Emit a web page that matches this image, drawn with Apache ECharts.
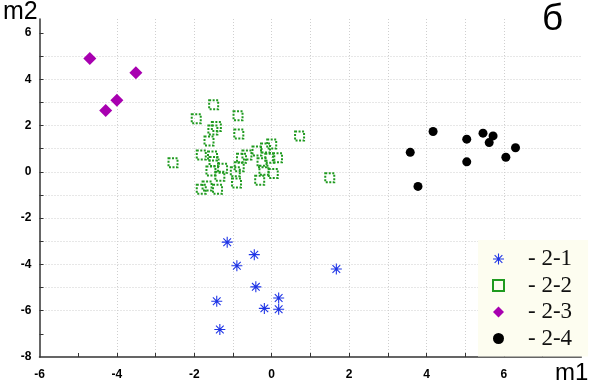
<!DOCTYPE html>
<html><head><meta charset="utf-8">
<script src="https://cdn.jsdelivr.net/npm/echarts@6/dist/echarts.min.js"></script>
<style>html,body{margin:0;padding:0;background:#fff}#c{width:591px;height:386px}</style>
</head><body><div id="c"></div>
<script>
// Series 2-1 (blue asterisks)
const s21 = [[-1.15,-3.04],[-0.45,-3.58],[-0.90,-4.06],[1.67,-4.20],[-0.41,-4.97],[-1.42,-5.59],[0.18,-5.45],[-0.19,-5.90],[0.18,-5.94],[-1.34,-6.81]];
// Series 2-2 (green dotted squares)
const s22 = [[-1.50,2.90],[-1.95,2.29],[-0.87,2.42],[-1.52,1.81],[-1.43,1.96],[-0.85,1.63],[0.72,1.55],[-1.62,1.33],[0.00,1.20],[-0.16,1.03],[-0.38,0.90],[-0.64,0.73],[-0.78,0.58],[-1.82,0.73],[-1.53,0.68],[-1.49,0.44],[-2.55,0.39],[-1.27,0.15],[-1.57,0.03],[-1.34,-0.19],[-0.84,0.22],[-0.94,0.00],[-0.25,0.39],[-0.05,0.58],[0.15,0.61],[-0.20,0.07],[0.04,-0.07],[-0.31,-0.36],[-0.91,-0.48],[1.50,-0.26],[-1.82,-0.75],[-1.67,-0.61],[-1.40,-0.75]];
// Series 2-3 (purple diamonds)
const s23 = [[-4.70,4.89],[-3.51,4.28],[-4.00,3.09],[-4.29,2.65]];
// Series 2-4 (black dots)
const s24 = [[4.17,1.74],[3.58,0.84],[3.78,-0.63],[5.04,1.41],[5.04,0.43],[5.46,1.67],[5.72,1.55],[5.62,1.26],[6.05,0.63],[6.30,1.04]];
const seriesNames = ['2-1','2-2','2-3','2-4'];
const xTicks = [-5,-4,-3,-2,-1,0,1,2,3,4,5,6,7];
const yTicks = [-7,-6,-5,-4,-3,-2,-1,0,1,2,3,4,5,6];

const asterisk = 'path://M9,0L11,0L11,20L9,20Z M0,9L20,9L20,11L0,11Z M2.3,3.7L3.7,2.3L17.7,16.3L16.3,17.7Z M16.3,2.3L17.7,3.7L3.7,17.7L2.3,16.3Z';
const labelStyle = {color:'#000', fontSize:12, fontWeight:'bold', fontFamily:'Liberation Sans, Arial, sans-serif'};
const chart = echarts.init(document.getElementById('c'), null, {renderer:'canvas'});
chart.setOption({
  animation:false,
  backgroundColor:'#fff',
  grid:{left:39.5, right:9.7, top:19, bottom:29, containLabel:false},
  xAxis:{type:'value', min:-6, max:8, interval:2,
    axisLine:{onZero:false, lineStyle:{color:'#333', width:1.5}},
    axisTick:{show:true, inside:true, length:4, customValues:xTicks, lineStyle:{color:'#333'}},
    axisLabel:Object.assign({margin:12, showMaxLabel:false}, labelStyle),
    splitLine:{show:true, showMinLine:false, showMaxLine:false, lineStyle:{color:'#cfcfcf', type:[1,2], width:1}}
  },
  yAxis:{type:'value', min:-8, max:6.6, interval:2,
    axisLine:{show:true, onZero:false, lineStyle:{color:'#333', width:1.5}},
    axisTick:{show:true, inside:true, length:4, customValues:yTicks, lineStyle:{color:'#333'}},
    axisLabel:Object.assign({margin:8, formatter:function(v){return (Math.abs(v - Math.round(v))<1e-6 && Math.round(v)%2===0) ? String(Math.round(v)) : '';}}, labelStyle),
    splitLine:{show:true, showMinLine:false, showMaxLine:false, lineStyle:{color:'#cfcfcf', type:[1,2], width:1}}
  },
  legend:{orient:'vertical', left:478, top:240, padding:[7,16,6,14], backgroundColor:'#fdfdf0',
    itemWidth:11, itemHeight:11, itemGap:2.5, data:seriesNames,
    formatter:function(n){return '- ' + n;},
    textStyle:{fontFamily:'Liberation Serif, Times New Roman, serif', fontSize:23, color:'#111', lineHeight:24, padding:[0,0,0,19]}
  },
  graphic:[
    {type:'text', left:3, top:0, style:{text:'m2', fontSize:25, fontFamily:'Liberation Sans, Arial, sans-serif', fill:'#000'}},
    {type:'text', left:555, top:361, style:{text:'m1', fontSize:24, fontFamily:'Liberation Sans, Arial, sans-serif', fill:'#000'}},
    {type:'text', left:542, top:1, style:{text:'б', fontSize:37, fontFamily:'Liberation Sans, Arial, sans-serif', fill:'#000'}}
  ],
  series:[
    {name:seriesNames[0], type:'scatter', data:s21, symbol:asterisk, symbolSize:11, itemStyle:{color:'#1f35e6', opacity:1}},
    {name:seriesNames[1], type:'scatter', data:s22, symbol:'rect', symbolSize:9, itemStyle:{color:'rgba(0,0,0,0)', borderColor:'#1f9a1f', borderWidth:2, borderType:[2,1.5], opacity:1}},
    {name:seriesNames[2], type:'scatter', data:s23, symbol:'diamond', symbolSize:13, itemStyle:{color:'#a800b0', opacity:1}},
    {name:seriesNames[3], type:'scatter', data:s24, symbol:'circle', symbolSize:9, itemStyle:{color:'#000', opacity:1}}
  ]
});
</script></body></html>
